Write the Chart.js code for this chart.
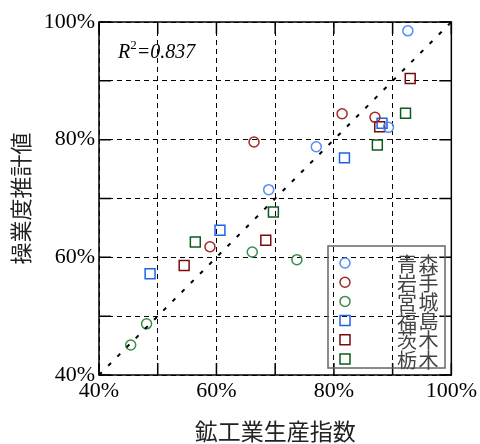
<!DOCTYPE html>
<html>
<head>
<meta charset="utf-8">
<script src="https://cdn.jsdelivr.net/npm/chart.js@4/dist/chart.umd.min.js"></script>
<style>
  body { margin: 0; background: #fff; }
  #wrap { width: 480px; height: 444px; }
</style>
</head>
<body>
<div id="wrap"><canvas id="scatterPref" width="480" height="444"></canvas></div>
<script>
// 都道府県ごとのデータ (x: 鉱工業生産指数, y: 操業度推計値)
const prefectures = ['青森', '岩手', '宮城', '福島', '茨木', '栃木'];
const aomoriX = [92.6, 77.0, 89.3, 68.9];
const aomoriY = [98.5, 78.8, 82.1, 71.5];
const iwateX = [66.4, 81.4, 87.0, 58.9];
const iwateY = [79.6, 84.4, 83.8, 61.8];
const miyagiX = [66.1, 73.7, 48.1, 45.4];
const miyagiY = [60.9, 59.6, 48.7, 45.1];
const fukushimaX = [81.8, 88.2, 60.6, 48.7];
const fukushimaY = [76.9, 82.8, 64.6, 57.2];
const ibarakiX = [93.0, 87.8, 68.4, 54.5];
const ibarakiY = [90.4, 82.2, 62.9, 58.6];
const tochigiX = [92.2, 87.4, 69.7, 56.4];
const tochigiY = [84.5, 79.1, 67.7, 62.6];

const diagonal = [40, 100]; // y = x の参照線
const axisMin = 40, axisMax = 100, gridStep = 10, labelStep = 20;
const r2Text = '0.837';

const seriesX = [aomoriX, iwateX, miyagiX, fukushimaX, ibarakiX, tochigiX];
const seriesY = [aomoriY, iwateY, miyagiY, fukushimaY, ibarakiY, tochigiY];
const colors = ['#4f8ff7', '#9e2a2a', '#3b8c4b', '#1c63e8', '#7b0a0a', '#0d5c1c'];
const shapes = ['circle', 'circle', 'circle', 'rect', 'rect', 'rect'];

const datasets = prefectures.map((name, i) => ({
    label: name,
    data: seriesX[i].map((x, j) => ({ x: x, y: seriesY[i][j] })),
    pointStyle: shapes[i],
    pointRadius: shapes[i] === 'rect' ? 7 : 5,
    pointHoverRadius: shapes[i] === 'rect' ? 7 : 5,
    pointBorderColor: colors[i],
    pointBackgroundColor: 'rgba(0,0,0,0)',
    pointBorderWidth: 1.5,
    showLine: false
}));

datasets.unshift({
    label: 'diag',
    data: diagonal.map(v => ({ x: v, y: v })),
    showLine: true,
    borderColor: '#000',
    borderWidth: 2,
    borderDash: [4, 9],
    pointRadius: 0,
    fill: false
});

// 枠・内向き目盛り・凡例・R2 を描くプラグイン
const framePlugin = {
    id: 'framePlugin',
    beforeDatasetsDraw(chart) {
        const ctx = chart.ctx;
        const a = chart.chartArea;
        const xs = chart.scales.x, ys = chart.scales.y;
        ctx.save();
        ctx.strokeStyle = '#000';
        ctx.lineWidth = 1.5;
        const tl = 12;
        for (let v = axisMin; v <= axisMax; v += gridStep) {
            const px = xs.getPixelForValue(v);
            const py = ys.getPixelForValue(v);
            ctx.beginPath();
            ctx.moveTo(px, a.bottom); ctx.lineTo(px, a.bottom - tl);
            ctx.moveTo(px, a.top); ctx.lineTo(px, a.top + tl);
            ctx.moveTo(a.left, py); ctx.lineTo(a.left + tl, py);
            ctx.moveTo(a.right, py); ctx.lineTo(a.right - tl, py);
            ctx.stroke();
        }
        ctx.strokeRect(a.left, a.top, a.right - a.left, a.bottom - a.top);
        ctx.restore();
    },
    afterDraw(chart) {
        const ctx = chart.ctx;
        ctx.save();
        // R^2
        ctx.fillStyle = '#000';
        ctx.textBaseline = 'alphabetic';
        ctx.font = 'italic 20px "Liberation Serif"';
        let x = 118, y = 58;
        ctx.fillText('R', x, y);
        x += ctx.measureText('R').width;
        ctx.font = '13px "Liberation Serif"';
        ctx.fillText('2', x, y - 9);
        x += ctx.measureText('2').width;
        ctx.font = 'italic 20px "Liberation Serif"';
        ctx.fillText('=' + r2Text, x, y);

        // 凡例
        const bx = 328, by = 246, bw = 117, bh = 122;
        ctx.strokeStyle = '#666';
        ctx.lineWidth = 1.5;
        ctx.strokeRect(bx, by, bw, bh);
        const rowH = 19.2;
        chart.data.datasets.forEach((ds, k) => {
            const i = prefectures.indexOf(ds.label);
            if (i < 0) return;
            const my = by + 17 + i * rowH;
            const mx = bx + 17;
            ctx.strokeStyle = colors[i];
            ctx.lineWidth = 1.5;
            ctx.beginPath();
            if (shapes[i] === 'circle') {
                ctx.arc(mx, my, 5, 0, Math.PI * 2);
            } else {
                ctx.rect(mx - 5, my - 5, 10, 10);
            }
            ctx.stroke();
            ctx.fillStyle = '#444';
            ctx.font = '20px "Noto Sans CJK JP"';
            ctx.textBaseline = 'middle';
            const chars = Array.from(ds.label);
            chars.forEach((c, j) => ctx.fillText(c, 397 + j * 21.5, my + 1));
        });
        ctx.restore();
    }
};

const tickFont = { family: '"Liberation Serif", serif', size: 22 };

new Chart(document.getElementById('scatterPref'), {
    type: 'scatter',
    data: { datasets: datasets },
    options: {
        responsive: false,
        animation: false,
        layout: { padding: { left: 0, top: 22, right: 28, bottom: 0 } },
        scales: {
            x: {
                type: 'linear',
                min: axisMin,
                max: axisMax,
                afterFit: (s) => { s.height = 69; },
                grid: { color: '#000', lineWidth: 1, drawTicks: false },
                border: { display: false, dash: [5, 4] },
                ticks: {
                    stepSize: gridStep,
                    autoSkip: false,
                    maxRotation: 0,
                    padding: 3,
                    color: '#000',
                    font: tickFont,
                    callback: (v) => (v % labelStep === 0 ? v + '%' : '')
                },
                title: {
                    display: true,
                    text: '鉱工業生産指数',
                    color: '#222',
                    font: { family: '"Noto Sans CJK JP"', size: 23, lineHeight: 1 },
                    padding: { top: 0, bottom: 1 }
                }
            },
            y: {
                type: 'linear',
                min: axisMin,
                max: axisMax,
                afterFit: (s) => { s.width = 99; },
                grid: { color: '#000', lineWidth: 1, drawTicks: false },
                border: { display: false, dash: [5, 4] },
                ticks: {
                    stepSize: gridStep,
                    autoSkip: false,
                    padding: 4,
                    color: '#000',
                    font: tickFont,
                    callback: (v) => (v % labelStep === 0 ? v + '%' : '')
                },
                title: {
                    display: true,
                    text: '操業度推計値',
                    color: '#222',
                    font: { family: '"Noto Sans CJK JP"', size: 22, lineHeight: 1 },
                    padding: { top: 10, bottom: 0 }
                }
            }
        },
        plugins: {
            legend: { display: false },
            tooltip: { enabled: false }
        }
    },
    plugins: [framePlugin]
});
</script>
</body>
</html>
